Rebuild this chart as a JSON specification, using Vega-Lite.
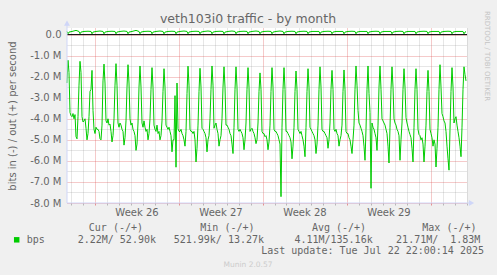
{
"$schema":"https://vega.github.io/schema/vega-lite/v6.json",
"width":400,"height":175,
"autosize":{"type":"none"},
"padding":{"left":67,"top":28,"right":30,"bottom":72},
"background":"#F0F0F0",
"config":{"view":{"stroke":null,"fill":"#FFFFFF"},"font":"DejaVu Sans"},
"data":{"format":{"parse":{"t":"utc:'%Y-%m-%dT%H'"}},"values":[
{"t":"2025-06-20T17","in":-2.3,"out":0.15},
{"t":"2025-06-20T19","in":-1.22,"out":0.04},{"t":"2025-06-20T21","in":-1.8,"out":0.12},{"t":"2025-06-20T23","in":-3.7},{"t":"2025-06-21T01","in":-3.85},{"t":"2025-06-21T03","in":-3.9,"out":0.15},{"t":"2025-06-21T05","in":-3.75},{"t":"2025-06-21T07","in":-4.0},{"t":"2025-06-21T09","in":-3.8},{"t":"2025-06-21T11","in":-4.85,"out":0.2},{"t":"2025-06-21T13","in":-4.95},{"t":"2025-06-21T15","in":-3.9},{"t":"2025-06-21T17","in":-2.4,"out":0.15},
{"t":"2025-06-21T19","in":-1.27,"out":0.04},{"t":"2025-06-21T21","in":-1.8,"out":0.12},{"t":"2025-06-21T23","in":-3.9},{"t":"2025-06-22T01","in":-4.15},{"t":"2025-06-22T03","in":-4.1,"out":0.15},{"t":"2025-06-22T05","in":-4.0},{"t":"2025-06-22T07","in":-4.45},{"t":"2025-06-22T09","in":-5.0},{"t":"2025-06-22T11","in":-4.7,"out":0.16},{"t":"2025-06-22T13","in":-3.9},{"t":"2025-06-22T15","in":-2.7},{"t":"2025-06-22T17","in":-2.6,"out":0.15},
{"t":"2025-06-22T19","in":-1.7,"out":0.04},{"t":"2025-06-22T21","in":-3.6,"out":0.12},{"t":"2025-06-22T23","in":-4.5},{"t":"2025-06-23T01","in":-4.7},{"t":"2025-06-23T03","in":-4.4,"out":0.15},{"t":"2025-06-23T05","in":-4.5},{"t":"2025-06-23T07","in":-4.5},{"t":"2025-06-23T09","in":-4.6},{"t":"2025-06-23T11","in":-4.95,"out":0.17},{"t":"2025-06-23T13","in":-5.0},{"t":"2025-06-23T15","in":-4.3},{"t":"2025-06-23T17","in":-2.2,"out":0.15},
{"t":"2025-06-23T19","in":-1.4,"out":0.04},{"t":"2025-06-23T21","in":-2.3,"out":0.12},{"t":"2025-06-23T23","in":-4.1},{"t":"2025-06-24T01","in":-4.2},{"t":"2025-06-24T03","in":-4.0,"out":0.15},{"t":"2025-06-24T05","in":-4.3},{"t":"2025-06-24T07","in":-4.25},{"t":"2025-06-24T09","in":-4.6},{"t":"2025-06-24T11","in":-5.1,"out":0.16},{"t":"2025-06-24T13","in":-4.8},{"t":"2025-06-24T15","in":-4.0},{"t":"2025-06-24T17","in":-2.4,"out":0.15},
{"t":"2025-06-24T19","in":-1.38,"out":0.04},{"t":"2025-06-24T21","in":-2.4,"out":0.12},{"t":"2025-06-24T23","in":-4.2},{"t":"2025-06-25T01","in":-4.4},{"t":"2025-06-25T03","in":-4.2,"out":0.15},{"t":"2025-06-25T05","in":-4.3},{"t":"2025-06-25T07","in":-4.5},{"t":"2025-06-25T09","in":-4.6},{"t":"2025-06-25T11","in":-5.25,"out":0.17},{"t":"2025-06-25T13","in":-4.9},{"t":"2025-06-25T15","in":-4.1},{"t":"2025-06-25T17","in":-2.5,"out":0.15},
{"t":"2025-06-25T19","in":-1.43,"out":0.04},{"t":"2025-06-25T21","in":-2.3,"out":0.12},{"t":"2025-06-25T23","in":-4.0},{"t":"2025-06-26T01","in":-4.3},{"t":"2025-06-26T03","in":-4.2,"out":0.15},{"t":"2025-06-26T05","in":-4.5},{"t":"2025-06-26T07","in":-4.6},{"t":"2025-06-26T09","in":-4.8},{"t":"2025-06-26T11","in":-5.5,"out":0.2},{"t":"2025-06-26T13","in":-5.2},{"t":"2025-06-26T15","in":-4.2},{"t":"2025-06-26T17","in":-2.5,"out":0.15},
{"t":"2025-06-26T19","in":-1.49,"out":0.04},{"t":"2025-06-26T21","in":-2.5,"out":0.12},{"t":"2025-06-26T23","in":-4.2},{"t":"2025-06-27T01","in":-4.4},{"t":"2025-06-27T03","in":-4.1,"out":0.15},{"t":"2025-06-27T05","in":-4.4},{"t":"2025-06-27T07","in":-4.6},{"t":"2025-06-27T09","in":-4.5},{"t":"2025-06-27T11","in":-5.0,"out":0.16},{"t":"2025-06-27T13","in":-4.7},{"t":"2025-06-27T15","in":-4.0},{"t":"2025-06-27T17","in":-2.6,"out":0.15},
{"t":"2025-06-27T19","in":-1.57,"out":0.04},{"t":"2025-06-27T21","in":-2.5,"out":0.12},{"t":"2025-06-27T23","in":-4.3},{"t":"2025-06-28T01","in":-4.5},{"t":"2025-06-28T03","in":-4.6,"out":0.15},{"t":"2025-06-28T05","in":-4.3},{"t":"2025-06-28T07","in":-4.7},{"t":"2025-06-28T09","in":-4.6},{"t":"2025-06-28T11","in":-5.0,"out":0.17},{"t":"2025-06-28T13","in":-4.8},{"t":"2025-06-28T15","in":-4.1},{"t":"2025-06-28T17","in":-2.7,"out":0.15},
{"t":"2025-06-28T19","in":-1.62,"out":0.04},{"t":"2025-06-28T21","in":-2.5,"out":0.12},{"t":"2025-06-28T23","in":-4.3},{"t":"2025-06-29T01","in":-4.4},{"t":"2025-06-29T03","in":-4.5,"out":0.15},{"t":"2025-06-29T05","in":-4.4},{"t":"2025-06-29T07","in":-4.6},{"t":"2025-06-29T09","in":-4.8},{"t":"2025-06-29T11","in":-5.57,"out":0.16},{"t":"2025-06-29T13","in":-5.0},{"t":"2025-06-29T15","in":-5.0},{"t":"2025-06-29T17","in":-2.9,"out":0.15},
{"t":"2025-06-29T19","in":-6.3,"out":0.04},{"t":"2025-06-29T21","in":-2.3,"out":0.12},{"t":"2025-06-29T23","in":-4.47},{"t":"2025-06-30T01","in":-4.6},{"t":"2025-06-30T03","in":-4.6,"out":0.15},{"t":"2025-06-30T05","in":-4.5},{"t":"2025-06-30T07","in":-4.7},{"t":"2025-06-30T09","in":-4.8},{"t":"2025-06-30T11","in":-5.0,"out":0.17},{"t":"2025-06-30T13","in":-5.3},{"t":"2025-06-30T15","in":-4.6},{"t":"2025-06-30T17","in":-2.8,"out":0.15},
{"t":"2025-06-30T19","in":-1.5,"out":0.04},{"t":"2025-06-30T21","in":-2.4,"out":0.12},{"t":"2025-06-30T23","in":-4.5},{"t":"2025-07-01T01","in":-4.6},{"t":"2025-07-01T03","in":-4.6,"out":0.15},{"t":"2025-07-01T05","in":-4.7},{"t":"2025-07-01T07","in":-4.6},{"t":"2025-07-01T09","in":-5.0},{"t":"2025-07-01T11","in":-6.05,"out":0.16},{"t":"2025-07-01T13","in":-5.4},{"t":"2025-07-01T15","in":-4.3},{"t":"2025-07-01T17","in":-2.7,"out":0.15},
{"t":"2025-07-01T19","in":-1.6,"out":0.04},{"t":"2025-07-01T21","in":-2.5,"out":0.12},{"t":"2025-07-01T23","in":-4.45},{"t":"2025-07-02T01","in":-4.5},{"t":"2025-07-02T03","in":-4.6,"out":0.15},{"t":"2025-07-02T05","in":-4.7},{"t":"2025-07-02T07","in":-4.9},{"t":"2025-07-02T09","in":-5.57},{"t":"2025-07-02T11","in":-5.0,"out":0.17},{"t":"2025-07-02T13","in":-4.8},{"t":"2025-07-02T15","in":-4.0},{"t":"2025-07-02T17","in":-2.6,"out":0.15},
{"t":"2025-07-02T19","in":-1.49,"out":0.04},{"t":"2025-07-02T21","in":-2.4,"out":0.12},{"t":"2025-07-02T23","in":-4.45},{"t":"2025-07-03T01","in":-4.3},{"t":"2025-07-03T03","in":-4.2,"out":0.15},{"t":"2025-07-03T05","in":-4.5},{"t":"2025-07-03T07","in":-4.7},{"t":"2025-07-03T09","in":-5.3},{"t":"2025-07-03T11","in":-5.0,"out":0.16},{"t":"2025-07-03T13","in":-4.8},{"t":"2025-07-03T15","in":-4.0},{"t":"2025-07-03T17","in":-2.5,"out":0.15},
{"t":"2025-07-03T19","in":-1.53,"out":0.04},{"t":"2025-07-03T21","in":-2.5,"out":0.12},{"t":"2025-07-03T23","in":-4.3},{"t":"2025-07-04T01","in":-4.3},{"t":"2025-07-04T03","in":-4.4,"out":0.15},{"t":"2025-07-04T05","in":-4.5},{"t":"2025-07-04T07","in":-4.7},{"t":"2025-07-04T09","in":-4.8},{"t":"2025-07-04T11","in":-5.2,"out":0.17},{"t":"2025-07-04T13","in":-5.65},{"t":"2025-07-04T15","in":-4.4},{"t":"2025-07-04T17","in":-2.6,"out":0.15},
{"t":"2025-07-04T19","in":-1.53,"out":0.04},{"t":"2025-07-04T21","in":-2.5,"out":0.12},{"t":"2025-07-04T23","in":-4.5},{"t":"2025-07-05T01","in":-4.6},{"t":"2025-07-05T03","in":-4.5,"out":0.15},{"t":"2025-07-05T05","in":-4.6},{"t":"2025-07-05T07","in":-4.7},{"t":"2025-07-05T09","in":-4.9},{"t":"2025-07-05T11","in":-5.47,"out":0.16},{"t":"2025-07-05T13","in":-5.0},{"t":"2025-07-05T15","in":-4.2},{"t":"2025-07-05T17","in":-2.6,"out":0.15},
{"t":"2025-07-05T19","in":-1.57,"out":0.04},{"t":"2025-07-05T21","in":-2.5,"out":0.12},{"t":"2025-07-05T23","in":-4.6},{"t":"2025-07-06T01","in":-4.5},{"t":"2025-07-06T03","in":-4.45,"out":0.15},{"t":"2025-07-06T05","in":-4.6},{"t":"2025-07-06T07","in":-4.7},{"t":"2025-07-06T09","in":-4.9},{"t":"2025-07-06T11","in":-5.18,"out":0.17},{"t":"2025-07-06T13","in":-5.0},{"t":"2025-07-06T15","in":-4.2},{"t":"2025-07-06T17","in":-2.7,"out":0.15},
{"t":"2025-07-06T19","in":-1.82,"out":0.04},{"t":"2025-07-06T21","in":-2.6,"out":0.12},{"t":"2025-07-06T23","in":-4.6},{"t":"2025-07-07T01","in":-4.7},{"t":"2025-07-07T03","in":-4.7,"out":0.15},{"t":"2025-07-07T05","in":-4.85},{"t":"2025-07-07T07","in":-4.8},{"t":"2025-07-07T09","in":-5.0},{"t":"2025-07-07T11","in":-5.47,"out":0.16},{"t":"2025-07-07T13","in":-5.1},{"t":"2025-07-07T15","in":-4.3},{"t":"2025-07-07T17","in":-2.7,"out":0.15},
{"t":"2025-07-07T19","in":-1.57,"out":0.04},{"t":"2025-07-07T21","in":-2.5,"out":0.12},{"t":"2025-07-07T23","in":-4.5},{"t":"2025-07-08T01","in":-4.6},{"t":"2025-07-08T03","in":-4.6,"out":0.15},{"t":"2025-07-08T05","in":-4.7},{"t":"2025-07-08T07","in":-4.8},{"t":"2025-07-08T09","in":-5.0},{"t":"2025-07-08T11","in":-5.2,"out":0.17},{"t":"2025-07-08T13","in":-7.7},{"t":"2025-07-08T15","in":-4.4},{"t":"2025-07-08T17","in":-2.6,"out":0.15},
{"t":"2025-07-08T19","in":-1.57,"out":0.04},{"t":"2025-07-08T21","in":-2.6,"out":0.12},{"t":"2025-07-08T23","in":-4.6},{"t":"2025-07-09T01","in":-4.6},{"t":"2025-07-09T03","in":-4.7,"out":0.15},{"t":"2025-07-09T05","in":-4.8},{"t":"2025-07-09T07","in":-4.9},{"t":"2025-07-09T09","in":-5.1},{"t":"2025-07-09T11","in":-5.9,"out":0.16},{"t":"2025-07-09T13","in":-5.3},{"t":"2025-07-09T15","in":-4.4},{"t":"2025-07-09T17","in":-2.7,"out":0.15},
{"t":"2025-07-09T19","in":-1.73,"out":0.04},{"t":"2025-07-09T21","in":-2.6,"out":0.12},{"t":"2025-07-09T23","in":-4.5},{"t":"2025-07-10T01","in":-4.6},{"t":"2025-07-10T03","in":-4.7,"out":0.15},{"t":"2025-07-10T05","in":-4.6},{"t":"2025-07-10T07","in":-4.8},{"t":"2025-07-10T09","in":-5.0},{"t":"2025-07-10T11","in":-5.3,"out":0.16},{"t":"2025-07-10T13","in":-5.8},{"t":"2025-07-10T15","in":-4.4},{"t":"2025-07-10T17","in":-2.7,"out":0.15},
{"t":"2025-07-10T19","in":-1.62,"out":0.04},{"t":"2025-07-10T21","in":-2.5,"out":0.12},{"t":"2025-07-10T23","in":-4.4},{"t":"2025-07-11T01","in":-4.5},{"t":"2025-07-11T03","in":-4.6,"out":0.15},{"t":"2025-07-11T05","in":-4.7},{"t":"2025-07-11T07","in":-4.8},{"t":"2025-07-11T09","in":-5.0},{"t":"2025-07-11T11","in":-5.65,"out":0.15},{"t":"2025-07-11T13","in":-5.2},{"t":"2025-07-11T15","in":-4.3},{"t":"2025-07-11T17","in":-2.6,"out":0.15},
{"t":"2025-07-11T19","in":-1.53,"out":0.04},{"t":"2025-07-11T21","in":-2.5,"out":0.12},{"t":"2025-07-11T23","in":-4.5},{"t":"2025-07-12T01","in":-4.6},{"t":"2025-07-12T03","in":-4.6,"out":0.15},{"t":"2025-07-12T05","in":-4.7},{"t":"2025-07-12T07","in":-4.8},{"t":"2025-07-12T09","in":-4.9},{"t":"2025-07-12T11","in":-5.4,"out":0.16},{"t":"2025-07-12T13","in":-5.0},{"t":"2025-07-12T15","in":-4.2},{"t":"2025-07-12T17","in":-2.6,"out":0.15},
{"t":"2025-07-12T19","in":-1.7,"out":0.04},{"t":"2025-07-12T21","in":-2.6,"out":0.12},{"t":"2025-07-12T23","in":-4.5},{"t":"2025-07-13T01","in":-4.6},{"t":"2025-07-13T03","in":-4.5,"out":0.15},{"t":"2025-07-13T05","in":-4.7},{"t":"2025-07-13T07","in":-4.8},{"t":"2025-07-13T09","in":-5.3},{"t":"2025-07-13T11","in":-5.0,"out":0.15},{"t":"2025-07-13T13","in":-4.8},{"t":"2025-07-13T15","in":-4.3},{"t":"2025-07-13T17","in":-2.7,"out":0.15},
{"t":"2025-07-13T19","in":-1.68,"out":0.04},{"t":"2025-07-13T21","in":-2.6,"out":0.12},{"t":"2025-07-13T23","in":-4.6},{"t":"2025-07-14T01","in":-4.7},{"t":"2025-07-14T03","in":-4.7,"out":0.15},{"t":"2025-07-14T05","in":-4.9},{"t":"2025-07-14T07","in":-5.0},{"t":"2025-07-14T09","in":-5.3},{"t":"2025-07-14T11","in":-5.65,"out":0.16},{"t":"2025-07-14T13","in":-5.0},{"t":"2025-07-14T15","in":-4.3},{"t":"2025-07-14T17","in":-2.6,"out":0.15},
{"t":"2025-07-14T19","in":-1.49,"out":0.04},{"t":"2025-07-14T21","in":-2.4,"out":0.12},{"t":"2025-07-14T23","in":-3.6},{"t":"2025-07-15T01","in":-4.2},{"t":"2025-07-15T03","in":-4.3,"out":0.15},{"t":"2025-07-15T05","in":-4.45},{"t":"2025-07-15T07","in":-4.6},{"t":"2025-07-15T09","in":-4.8},{"t":"2025-07-15T11","in":-5.3,"out":0.15},{"t":"2025-07-15T13","in":-5.97},{"t":"2025-07-15T15","in":-4.5},{"t":"2025-07-15T17","in":-2.6,"out":0.15},
{"t":"2025-07-15T19","in":-1.49,"out":0.04},{"t":"2025-07-15T21","in":-2.8,"out":0.12},{"t":"2025-07-15T23","in":-3.7},{"t":"2025-07-16T01","in":-7.3},{"t":"2025-07-16T03","in":-4.2,"out":0.15},{"t":"2025-07-16T05","in":-4.4},{"t":"2025-07-16T07","in":-4.5},{"t":"2025-07-16T09","in":-4.7},{"t":"2025-07-16T11","in":-4.9,"out":0.16},{"t":"2025-07-16T13","in":-5.5},{"t":"2025-07-16T15","in":-4.3},{"t":"2025-07-16T17","in":-2.5,"out":0.15},
{"t":"2025-07-16T19","in":-1.49,"out":0.04},{"t":"2025-07-16T21","in":-2.6,"out":0.12},{"t":"2025-07-16T23","in":-4.0},{"t":"2025-07-17T01","in":-4.1},{"t":"2025-07-17T03","in":-4.2,"out":0.15},{"t":"2025-07-17T05","in":-4.3},{"t":"2025-07-17T07","in":-4.5},{"t":"2025-07-17T09","in":-4.7},{"t":"2025-07-17T11","in":-5.3,"out":0.15},{"t":"2025-07-17T13","in":-6.1},{"t":"2025-07-17T15","in":-4.4},{"t":"2025-07-17T17","in":-2.6,"out":0.15},
{"t":"2025-07-17T19","in":-1.53,"out":0.04},{"t":"2025-07-17T21","in":-2.5,"out":0.12},{"t":"2025-07-17T23","in":-4.0},{"t":"2025-07-18T01","in":-4.2},{"t":"2025-07-18T03","in":-4.3,"out":0.15},{"t":"2025-07-18T05","in":-4.5},{"t":"2025-07-18T07","in":-4.6},{"t":"2025-07-18T09","in":-4.8},{"t":"2025-07-18T11","in":-5.97,"out":0.16},{"t":"2025-07-18T13","in":-5.0},{"t":"2025-07-18T15","in":-4.2},{"t":"2025-07-18T17","in":-2.6,"out":0.15},
{"t":"2025-07-18T19","in":-1.62,"out":0.04},{"t":"2025-07-18T21","in":-2.5,"out":0.12},{"t":"2025-07-18T23","in":-3.95},{"t":"2025-07-19T01","in":-4.2},{"t":"2025-07-19T03","in":-4.4,"out":0.15},{"t":"2025-07-19T05","in":-4.6},{"t":"2025-07-19T07","in":-4.75},{"t":"2025-07-19T09","in":-4.9},{"t":"2025-07-19T11","in":-5.4,"out":0.15},{"t":"2025-07-19T13","in":-6.05},{"t":"2025-07-19T15","in":-4.4},{"t":"2025-07-19T17","in":-2.6,"out":0.15},
{"t":"2025-07-19T19","in":-1.62,"out":0.04},{"t":"2025-07-19T21","in":-2.6,"out":0.12},{"t":"2025-07-19T23","in":-4.5},{"t":"2025-07-20T01","in":-4.75},{"t":"2025-07-20T03","in":-4.8,"out":0.15},{"t":"2025-07-20T05","in":-5.0},{"t":"2025-07-20T07","in":-4.9},{"t":"2025-07-20T09","in":-5.2},{"t":"2025-07-20T11","in":-6.05,"out":0.16},{"t":"2025-07-20T13","in":-5.3},{"t":"2025-07-20T15","in":-4.3},{"t":"2025-07-20T17","in":-2.7,"out":0.15},
{"t":"2025-07-20T19","in":-1.7,"out":0.04},{"t":"2025-07-20T21","in":-2.7,"out":0.12},{"t":"2025-07-20T23","in":-4.5},{"t":"2025-07-21T01","in":-4.7},{"t":"2025-07-21T03","in":-4.9,"out":0.15},{"t":"2025-07-21T05","in":-5.3},{"t":"2025-07-21T07","in":-5.0},{"t":"2025-07-21T09","in":-5.2},{"t":"2025-07-21T11","in":-6.29,"out":0.15},{"t":"2025-07-21T13","in":-5.4},{"t":"2025-07-21T15","in":-4.4},{"t":"2025-07-21T17","in":-2.6,"out":0.15},
{"t":"2025-07-21T19","in":-1.43,"out":0.04},{"t":"2025-07-21T21","in":-2.5,"out":0.12},{"t":"2025-07-21T23","in":-3.75},{"t":"2025-07-22T01","in":-3.9},{"t":"2025-07-22T03","in":-4.1,"out":0.15},{"t":"2025-07-22T05","in":-4.2},{"t":"2025-07-22T07","in":-4.6},{"t":"2025-07-22T09","in":-5.3},{"t":"2025-07-22T11","in":-5.9,"out":0.16},{"t":"2025-07-22T13","in":-6.44},{"t":"2025-07-22T15","in":-4.5},{"t":"2025-07-22T17","in":-2.7,"out":0.15},
{"t":"2025-07-22T19","in":-1.57,"out":0.04},{"t":"2025-07-22T21","in":-2.5,"out":0.12},{"t":"2025-07-22T23","in":-4.2},{"t":"2025-07-23T01","in":-4.0},{"t":"2025-07-23T03","in":-3.9,"out":0.15},{"t":"2025-07-23T05","in":-4.3},{"t":"2025-07-23T07","in":-4.6},{"t":"2025-07-23T09","in":-4.9},{"t":"2025-07-23T11","in":-5.3,"out":0.15},{"t":"2025-07-23T13","in":-5.8},{"t":"2025-07-23T15","in":-4.4},{"t":"2025-07-23T17","in":-2.6,"out":0.15},
{"t":"2025-07-23T19","in":-1.53,"out":0.04},{"t":"2025-07-23T21","in":-1.9,"out":0.12},{"t":"2025-07-23T23","in":-2.2,"out":0.14}
]},
"resolve":{"scale":{"x":"independent","y":"independent"},"axis":{"x":"independent","y":"independent"}},
"layer":[
{"mark":{"type":"line","color":"#00CC00","strokeWidth":1},
"encoding":{
"x":{"field":"t","type":"temporal","scale":{"type":"utc","nice":false,"domain":[{"year":2025,"month":6,"date":20,"hours":17,"utc":true},{"year":2025,"month":7,"date":24,"hours":1,"utc":true}]},
"axis":{"orient":"bottom","title":null,"domain":false,"tickCount":{"interval":"day","step":1},
"gridColor":{"condition":{"test":"utcday(datum.value) === 1","value":"#de4f4f"},"value":"#8f8f8f"},
"gridOpacity":{"condition":{"test":"utcday(datum.value) === 1","value":0.6},"value":0.45},
"gridDash":[1,1],
"tickSize":2,
"tickColor":{"condition":{"test":"utcday(datum.value) === 1","value":"#de4f4f"},"value":"#8f8f8f"},
"tickOpacity":0.6,
"labelExpr":"utcday(datum.value) === 4 && utcFormat(datum.value, '%V') !== '30' ? 'Week ' + utcFormat(datum.value, '%V') : ''",
"labelOffset":6,"labelPadding":2.5,"labelFlush":false,"labelOverlap":false,"labelBound":false,
"labelFont":"DejaVu Sans","labelFontSize":10,"labelColor":"#666666","labelAlign":"center"}},
"y":{"field":"in","type":"quantitative","scale":{"domain":[-8,0.314],"nice":false,"zero":false},
"axis":{"orient":"left","values":[-8,-7.5,-7,-6.5,-6,-5.5,-5,-4.5,-4,-3.5,-3,-2.5,-2,-1.5,-1,-0.5,0],
"title":"bits in (-) / out (+) per second","titleFont":"DejaVu Sans","titleFontSize":10,"titleFontWeight":"normal","titleColor":"#666666",
"titleX":-52,"titleY":87.5,"titleAlign":"center","titleBaseline":"alphabetic",
"domain":false,"ticks":false,"labelPadding":6,
"labelFont":"DejaVu Sans","labelFontSize":10,"labelColor":"#666666","labelOverlap":false,"labelBound":false,"labelFlush":false,
"labelExpr":"datum.value % 1 !== 0 ? '' : (datum.value === 0 ? '0.0\u00a0' : '-' + format(-datum.value, '.1f') + ' M')",
"gridColor":{"condition":{"test":"datum.value % 1 === 0","value":"#de4f4f"},"value":"#8f8f8f"},
"gridOpacity":{"condition":{"test":"datum.value % 1 === 0","value":0.6},"value":0.45},
"gridDash":[1,1]}}}},
{"layer":[
{"data":{"values":[{}]},"mark":{"type":"rule","color":"#000000","strokeWidth":1},"encoding":{"y":{"datum":0,"type":"quantitative","axis":null}}},
{"transform":[{"filter":"isValid(datum.out)"}],"mark":{"type":"line","color":"#00CC00","strokeWidth":1},
"encoding":{"x":{"field":"t","type":"temporal","axis":null,"scale":{"type":"utc","nice":false,"domain":[{"year":2025,"month":6,"date":20,"hours":17,"utc":true},{"year":2025,"month":7,"date":24,"hours":1,"utc":true}]}},
"y":{"field":"out","type":"quantitative","axis":null,"scale":{"domain":[-8,0.314],"nice":false,"zero":false}}}},
{"data":{"values":[{}]},"mark":{"type":"rule","color":"#CFD6F8"},"encoding":{"x":{"datum":{"year":2025,"month":6,"date":20,"hours":17,"utc":true},"type":"temporal","axis":null},"y":{"datum":-8,"type":"quantitative","axis":null},"y2":{"datum":0.46}}},
{"data":{"values":[{}]},"mark":{"type":"rule","color":"#CFD6F8"},"encoding":{"x":{"datum":{"year":2025,"month":6,"date":20,"hours":17,"utc":true},"type":"temporal","axis":null},"x2":{"datum":{"year":2025,"month":7,"date":24,"hours":9,"utc":true}},"y":{"datum":-8,"type":"quantitative","axis":null}}},
{"data":{"values":[{}]},"mark":{"type":"point","shape":"triangle-up","filled":true,"color":"#CFD6F8","size":36,"opacity":1},"encoding":{"x":{"datum":{"year":2025,"month":6,"date":20,"hours":17,"utc":true},"type":"temporal","axis":null},"y":{"datum":0.55,"type":"quantitative","axis":null}}},
{"data":{"values":[{}]},"mark":{"type":"point","shape":"triangle-right","filled":true,"color":"#CFD6F8","size":36,"opacity":1},"encoding":{"x":{"datum":{"year":2025,"month":7,"date":24,"hours":10,"utc":true},"type":"temporal","axis":null},"y":{"datum":-8,"type":"quantitative","axis":null}}},
{"data":{"values":[{}]},"mark":{"type":"text","font":"DejaVu Sans","fontSize":12.5,"color":"#666666","align":"center","baseline":"alphabetic"},"encoding":{"x":{"datum":{"year":2025,"month":7,"date":5,"hours":19,"utc":true},"type":"temporal","axis":null},"y":{"datum":0.537,"type":"quantitative","axis":null},"text":{"value":"veth103i0 traffic - by month"}}},
{"data":{"values":[{}]},"mark":{"type":"text","font":"DejaVu Sans","fontSize":7,"color":"#c4c4c4","align":"center","baseline":"middle","angle":90},"encoding":{"x":{"datum":{"year":2025,"month":7,"date":25,"hours":17,"utc":true},"type":"temporal","axis":null},"y":{"datum":-1.016,"type":"quantitative","axis":null},"text":{"value":"RRDTOOL / TOBI OETIKER"}}},
{"data":{"values":[{}]},"mark":{"type":"point","shape":"square","filled":true,"color":"#00CC00","size":30,"opacity":1},"encoding":{"x":{"datum":{"year":2025,"month":6,"date":16,"hours":12,"minutes":24,"utc":true},"type":"temporal","axis":null},"y":{"datum":-9.749,"type":"quantitative","axis":null}}},
{"data":{"values":[{}]},"mark":{"type":"text","font":"DejaVu Sans Mono","fontSize":10,"color":"#666666","align":"left","baseline":"alphabetic"},"encoding":{"x":{"datum":{"year":2025,"month":6,"date":17,"hours":8,"minutes":24,"utc":true},"type":"temporal","axis":null},"y":{"datum":-9.886,"type":"quantitative","axis":null},"text":{"value":"bps"}}},
{"data":{"values":[{}]},"mark":{"type":"text","font":"DejaVu Sans Mono","fontSize":10,"color":"#666666","align":"left","baseline":"alphabetic"},"encoding":{"x":{"datum":{"year":2025,"month":6,"date":22,"hours":12,"minutes":36,"utc":true},"type":"temporal","axis":null},"y":{"datum":-9.331,"type":"quantitative","axis":null},"text":{"value":"Cur (-/+)"}}},
{"data":{"values":[{}]},"mark":{"type":"text","font":"DejaVu Sans Mono","fontSize":10,"color":"#666666","align":"left","baseline":"alphabetic"},"encoding":{"x":{"datum":{"year":2025,"month":7,"date":1,"hours":19,"minutes":36,"utc":true},"type":"temporal","axis":null},"y":{"datum":-9.331,"type":"quantitative","axis":null},"text":{"value":"Min (-/+)"}}},
{"data":{"values":[{}]},"mark":{"type":"text","font":"DejaVu Sans Mono","fontSize":10,"color":"#666666","align":"left","baseline":"alphabetic"},"encoding":{"x":{"datum":{"year":2025,"month":7,"date":11,"hours":2,"minutes":48,"utc":true},"type":"temporal","axis":null},"y":{"datum":-9.331,"type":"quantitative","axis":null},"text":{"value":"Avg (-/+)"}}},
{"data":{"values":[{}]},"mark":{"type":"text","font":"DejaVu Sans Mono","fontSize":10,"color":"#666666","align":"left","baseline":"alphabetic"},"encoding":{"x":{"datum":{"year":2025,"month":7,"date":20,"hours":7,"minutes":36,"utc":true},"type":"temporal","axis":null},"y":{"datum":-9.331,"type":"quantitative","axis":null},"text":{"value":"Max (-/+)"}}},
{"data":{"values":[{}]},"mark":{"type":"text","font":"DejaVu Sans Mono","fontSize":10,"color":"#666666","align":"left","baseline":"alphabetic"},"encoding":{"x":{"datum":{"year":2025,"month":6,"date":21,"hours":14,"minutes":24,"utc":true},"type":"temporal","axis":null},"y":{"datum":-9.886,"type":"quantitative","axis":null},"text":{"value":"2.22M/ 52.90k"}}},
{"data":{"values":[{}]},"mark":{"type":"text","font":"DejaVu Sans Mono","fontSize":10,"color":"#666666","align":"left","baseline":"alphabetic"},"encoding":{"x":{"datum":{"year":2025,"month":6,"date":29,"hours":14,"minutes":24,"utc":true},"type":"temporal","axis":null},"y":{"datum":-9.886,"type":"quantitative","axis":null},"text":{"value":"521.99k/ 13.27k"}}},
{"data":{"values":[{}]},"mark":{"type":"text","font":"DejaVu Sans Mono","fontSize":10,"color":"#666666","align":"left","baseline":"alphabetic"},"encoding":{"x":{"datum":{"year":2025,"month":7,"date":9,"hours":15,"minutes":48,"utc":true},"type":"temporal","axis":null},"y":{"datum":-9.886,"type":"quantitative","axis":null},"text":{"value":"4.11M/135.16k"}}},
{"data":{"values":[{}]},"mark":{"type":"text","font":"DejaVu Sans Mono","fontSize":10,"color":"#666666","align":"left","baseline":"alphabetic"},"encoding":{"x":{"datum":{"year":2025,"month":7,"date":18,"hours":3,"minutes":12,"utc":true},"type":"temporal","axis":null},"y":{"datum":-9.886,"type":"quantitative","axis":null},"text":{"value":"21.71M/\u00a0 1.83M"}}},
{"data":{"values":[{}]},"mark":{"type":"text","font":"DejaVu Sans Mono","fontSize":10,"color":"#666666","align":"left","baseline":"alphabetic"},"encoding":{"x":{"datum":{"year":2025,"month":7,"date":6,"hours":21,"minutes":24,"utc":true},"type":"temporal","axis":null},"y":{"datum":-10.423,"type":"quantitative","axis":null},"text":{"value":"Last update: Tue Jul 22 22:00:14 2025"}}},
{"data":{"values":[{}]},"mark":{"type":"text","font":"DejaVu Sans","fontSize":7.5,"color":"#cccccc","align":"center","baseline":"alphabetic"},"encoding":{"x":{"datum":{"year":2025,"month":7,"date":5,"hours":19,"utc":true},"type":"temporal","axis":null},"y":{"datum":-11.027,"type":"quantitative","axis":null},"text":{"value":"Munin 2.0.57"}}}
]}
]
}
